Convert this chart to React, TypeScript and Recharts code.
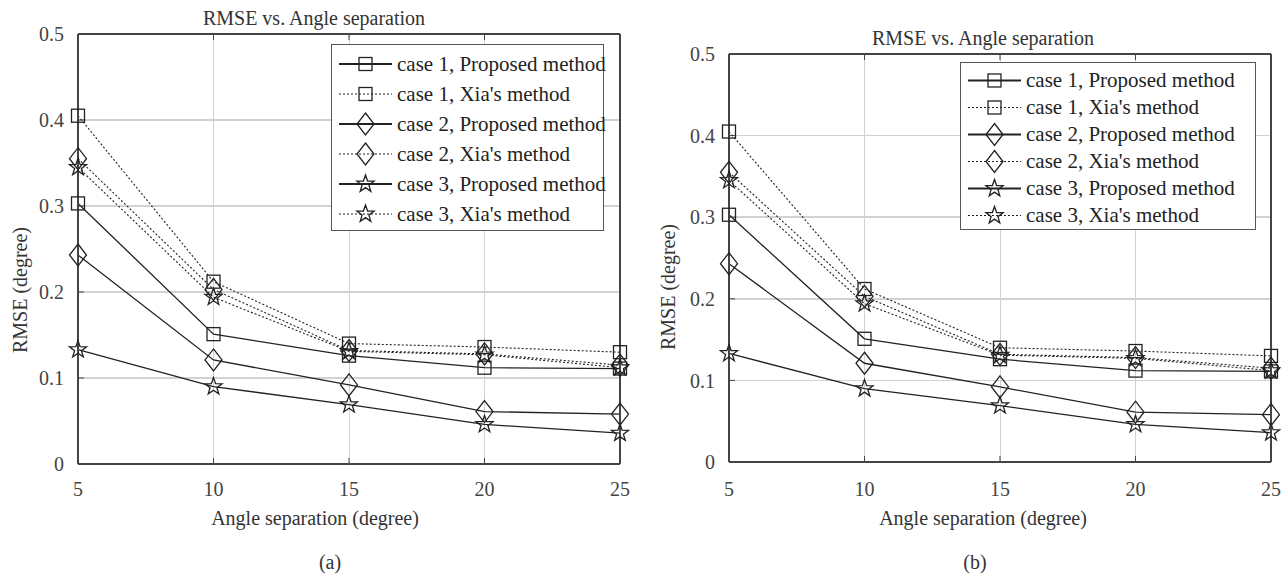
import React from 'react'
import { LineChart, Line, XAxis, YAxis, CartesianGrid, Legend, ReferenceLine } from 'recharts'

const angles = [5, 10, 15, 20, 25]
const case1Proposed = [0.303, 0.151, 0.126, 0.112, 0.111]
const case1Xia = [0.405, 0.212, 0.14, 0.136, 0.13]
const case2Proposed = [0.243, 0.121, 0.092, 0.061, 0.058]
const case2Xia = [0.355, 0.203, 0.132, 0.128, 0.115]
const case3Proposed = [0.133, 0.09, 0.069, 0.046, 0.036]
const case3Xia = [0.345, 0.194, 0.131, 0.127, 0.112]

const xTicks = [5, 10, 15, 20, 25]
const yTicks = [0, 0.1, 0.2, 0.3, 0.4, 0.5]

const FONT = '"Liberation Serif", "DejaVu Serif", serif'
const INK = '#222'
const GRID = '#d2d2d2'

type Shape = 'square' | 'diamond' | 'star'

interface SeriesDef {
  key: string
  name: string
  shape: Shape
  dashed: boolean
  values: number[]
}

const series: SeriesDef[] = [
  { key: 'c1p', name: 'case 1, Proposed method', shape: 'square', dashed: false, values: case1Proposed },
  { key: 'c1x', name: "case 1, Xia's method", shape: 'square', dashed: true, values: case1Xia },
  { key: 'c2p', name: 'case 2, Proposed method', shape: 'diamond', dashed: false, values: case2Proposed },
  { key: 'c2x', name: "case 2, Xia's method", shape: 'diamond', dashed: true, values: case2Xia },
  { key: 'c3p', name: 'case 3, Proposed method', shape: 'star', dashed: false, values: case3Proposed },
  { key: 'c3x', name: "case 3, Xia's method", shape: 'star', dashed: true, values: case3Xia },
]

const chartData = angles.map((angle, i) => {
  const row: any = { angle }
  series.forEach((s) => {
    row[s.key] = s.values[i]
  })
  return row
})

function MarkerShape({ shape, cx, cy }: { shape: Shape; cx: number; cy: number }) {
  const common = { fill: 'none', stroke: INK, strokeWidth: 1.3 }
  if (shape === 'square') {
    return <rect x={cx - 6.5} y={cy - 6.5} width={13} height={13} {...common} />
  }
  if (shape === 'diamond') {
    return (
      <polygon
        points={`${cx},${cy - 11} ${cx + 8.5},${cy} ${cx},${cy + 11} ${cx - 8.5},${cy}`}
        {...common}
      />
    )
  }
  // pentagram, matlab style
  const pts: string[] = []
  for (let k = 0; k < 10; k++) {
    const r = k % 2 === 0 ? 9 : 3.6
    const a = -Math.PI / 2 + (k * Math.PI) / 5
    pts.push(`${cx + r * Math.cos(a)},${cy + r * Math.sin(a)}`)
  }
  return <polygon points={pts.join(' ')} {...common} />
}

function LegendBox({ rowH }: { rowH: number }) {
  return (
    <div
      style={{
        border: '1.5px solid #555',
        background: '#fff',
        boxSizing: 'border-box',
        padding: '4px 0 0 7px',
        width: '100%',
        height: '100%',
        fontFamily: FONT,
      }}
    >
      {series.map((s) => (
        <div key={s.key} style={{ display: 'flex', alignItems: 'center', height: rowH }}>
          <svg width={54} height={rowH} style={{ overflow: 'visible' }}>
            <line
              x1={0}
              x2={53}
              y1={rowH / 2}
              y2={rowH / 2}
              stroke={INK}
              strokeWidth={s.dashed ? 1 : 2}
              strokeDasharray={s.dashed ? '2 2' : undefined}
            />
            <MarkerShape shape={s.shape} cx={26.5} cy={rowH / 2} />
          </svg>
          <span style={{ marginLeft: 4, fontSize: 21, color: INK, whiteSpace: 'nowrap', fontFamily: FONT }}>
            {s.name}
          </span>
        </div>
      ))}
    </div>
  )
}

interface PanelProps {
  left: number
  width: number
  margin: { top: number; right: number; bottom: number; left: number }
  xTickMargin: number
  legend: { left: number; top: number; width: number; height: number; rowH: number }
}

function Panel({ left, width, margin, xTickMargin, legend }: PanelProps) {
  const tickStyle = { fill: '#444', fontSize: 20, fontFamily: FONT }
  const axisLine = { stroke: '#444', strokeWidth: 2 }
  const tickLine = { stroke: '#444', strokeWidth: 1 }
  return (
    <div style={{ position: 'absolute', left, top: 0, fontFamily: FONT }}>
      <LineChart width={width} height={576} data={chartData} margin={margin} style={{ fontFamily: FONT }}>
        <CartesianGrid
          xAxisId="b"
          yAxisId="l"
          stroke={GRID}
          strokeWidth={1}
          horizontal={false}
          shapeRendering="crispEdges"
        />
        {yTicks.slice(1, -1).map((t) => (
          <ReferenceLine
            key={`h${t}`}
            xAxisId="b"
            yAxisId="l"
            y={t}
            stroke={GRID}
            strokeWidth={1.5}
            shapeRendering="crispEdges"
          />
        ))}
        <XAxis
          xAxisId="b"
          dataKey="angle"
          type="number"
          domain={[5, 25]}
          ticks={xTicks}
          height={40}
          axisLine={axisLine}
          tickLine={tickLine}
          tickSize={-6}
          tickMargin={xTickMargin}
          tick={tickStyle}
        />
        <XAxis
          xAxisId="t"
          orientation="top"
          dataKey="angle"
          type="number"
          domain={[5, 25]}
          ticks={xTicks}
          height={10}
          axisLine={axisLine}
          tickLine={tickLine}
          tickSize={-6}
          tickFormatter={() => ''}
        />
        <YAxis
          yAxisId="l"
          type="number"
          domain={[0, 0.5]}
          ticks={yTicks}
          width={50}
          axisLine={axisLine}
          tickLine={tickLine}
          tickSize={-6}
          tickMargin={20}
          tick={tickStyle}
          tickFormatter={(v: number) => String(v)}
        />
        <YAxis
          yAxisId="r"
          orientation="right"
          type="number"
          domain={[0, 0.5]}
          ticks={yTicks}
          width={10}
          axisLine={axisLine}
          tickLine={tickLine}
          tickSize={-6}
          tickFormatter={() => ''}
        />
        <Legend
          layout="vertical"
          align="center"
          verticalAlign="middle"
          wrapperStyle={{ left: legend.left, top: legend.top, width: legend.width, height: legend.height }}
          content={() => <LegendBox rowH={legend.rowH} />}
        />
        {series.map((s) => (
          <Line
            key={s.key}
            xAxisId="b"
            yAxisId="l"
            type="linear"
            dataKey={s.key}
            name={s.name}
            stroke={INK}
            strokeWidth={s.dashed ? 1.1 : 1.3}
            strokeDasharray={s.dashed ? '2 2' : undefined}
            dot={(p: any) => <MarkerShape key={`${s.key}-${p.index}`} shape={s.shape} cx={p.cx} cy={p.cy} />}
            activeDot={false}
            isAnimationActive={false}
          />
        ))}
      </LineChart>
    </div>
  )
}

function Label({ x, y, text, rotate }: { x: number; y: number; text: string; rotate?: boolean }) {
  return (
    <div
      style={{
        position: 'absolute',
        left: x,
        top: y,
        fontFamily: FONT,
        fontSize: 20,
        color: '#333',
        whiteSpace: 'nowrap',
        lineHeight: 1,
        transform: rotate ? 'translate(-50%, -50%) rotate(-90deg)' : 'translate(-50%, -50%)',
      }}
    >
      {text}
    </div>
  )
}

export default function App() {
  return (
    <div
      style={{
        position: 'absolute',
        left: 0,
        top: 0,
        width: 1288,
        height: 576,
        background: '#fff',
        overflow: 'hidden',
        fontFamily: FONT,
      }}
    >
      <Panel
        left={0}
        width={660}
        margin={{ top: 24, right: 30, bottom: 72, left: 28 }}
        xTickMargin={24}
        legend={{ left: 331, top: 44, width: 273, height: 187, rowH: 30 }}
      />
      <Panel
        left={640}
        width={648}
        margin={{ top: 44, right: 7, bottom: 74, left: 39 }}
        xTickMargin={26}
        legend={{ left: 320, top: 62, width: 296, height: 168, rowH: 27 }}
      />
      <Label x={314} y={18} text="RMSE vs. Angle separation" />
      <Label x={983} y={38} text="RMSE vs. Angle separation" />
      <Label x={315} y={518} text="Angle separation (degree)" />
      <Label x={983} y={518} text="Angle separation (degree)" />
      <Label x={20} y={290} text="RMSE (degree)" rotate />
      <Label x={668} y={287} text="RMSE (degree)" rotate />
      <Label x={330} y={562} text="(a)" />
      <Label x={975} y={562} text="(b)" />
    </div>
  )
}
